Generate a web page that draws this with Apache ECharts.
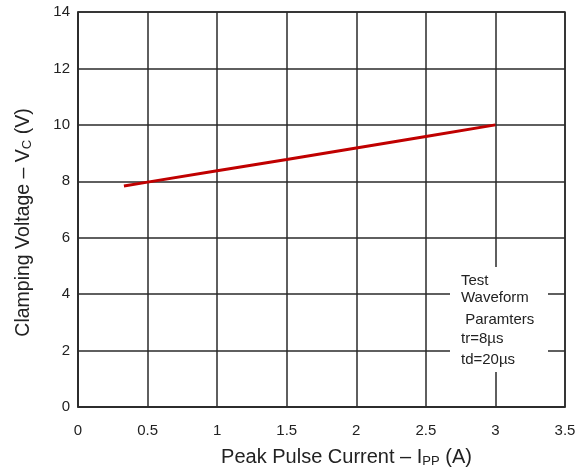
<!DOCTYPE html>
<html>
<head>
<meta charset="utf-8">
<script src="https://cdn.jsdelivr.net/npm/echarts@6/dist/echarts.min.js"></script>
<style>html,body{margin:0;padding:0;background:#fff;}#c{width:587px;height:470px;}</style>
</head>
<body>
<div id="c"></div>
<script>
var currentA = [0.33, 0.5, 1.0, 1.5, 2.0, 2.5, 3.0];
var clampV = [7.83, 7.97, 8.37, 8.77, 9.18, 9.59, 10.0];
var xTicks = [0, 0.5, 1, 1.5, 2, 2.5, 3, 3.5];
var yTicks = [0, 2, 4, 6, 8, 10, 12, 14];
var noteLines = ['Test', 'Waveform', ' Paramters', 'tr=8\u00b5s', 'td=20\u00b5s'];

var chart = echarts.init(document.getElementById('c'));
var font = 'Liberation Sans, Arial, sans-serif';
var gridLine = {show: true, lineStyle: {color: '#2a2a2a', width: 1.5}};
chart.setOption({
  animation: false,
  grid: {left: 78, right: 22, top: 12, bottom: 63, show: true, borderColor: '#2a2a2a', borderWidth: 1.5,
         outerBoundsMode: 'none', containLabel: false},
  xAxis: {
    type: 'value', min: xTicks[0], max: xTicks[xTicks.length - 1], interval: 0.5,
    axisLine: {show: true, lineStyle: {color: '#2a2a2a', width: 1.5}},
    axisTick: {show: false},
    splitLine: gridLine,
    axisLabel: {color: '#222', fontSize: 15, fontFamily: font, margin: 16},
    name: '{t|Peak Pulse Current \u2013 I}{s|PP}{t| (A)}',
    nameLocation: 'middle', nameGap: 40,
    nameTextStyle: {
      padding: [0, 0, 0, 50],
      rich: {
        t: {fontSize: 20, color: '#222', fontFamily: font},
        s: {fontSize: 13, color: '#222', fontFamily: font, verticalAlign: 'bottom', padding: [8, 0, 0, 0]}
      }
    }
  },
  yAxis: {
    type: 'value', min: yTicks[0], max: yTicks[yTicks.length - 1], interval: 2,
    axisLine: {show: true, lineStyle: {color: '#2a2a2a', width: 1.5}},
    axisTick: {show: false},
    splitLine: gridLine,
    axisLabel: {color: '#222', fontSize: 15, fontFamily: font, margin: 8},
    name: '{t|Clamping Voltage \u2013 V}{s|C}{t| (V)}',
    nameLocation: 'middle', nameGap: 44, nameRotate: 90,
    nameTextStyle: {
      padding: [0, 26, 0, 0],
      rich: {
        t: {fontSize: 19.5, color: '#222', fontFamily: font},
        s: {fontSize: 13, color: '#222', fontFamily: font, verticalAlign: 'bottom', padding: [8, 0, 0, 0]}
      }
    }
  },
  series: [{
    type: 'line',
    data: currentA.map(function (x, i) { return [x, clampV[i]]; }),
    showSymbol: false,
    lineStyle: {color: '#c00000', width: 3},
    z: 5
  }],
  graphic: [{
    type: 'rect', shape: {x: 450, y: 267, width: 98, height: 105},
    style: {fill: '#fff'}, z: 10
  }, {
    type: 'group', z: 11,
    children: noteLines.map(function (t, i) {
      var ys = [281, 298, 320, 339, 360];
      return {type: 'text', x: 461, y: ys[i], style: {text: t, fill: '#222', font: '15px ' + font, textVerticalAlign: 'middle'}, z: 11};
    })
  }]
});
</script>
</body>
</html>
